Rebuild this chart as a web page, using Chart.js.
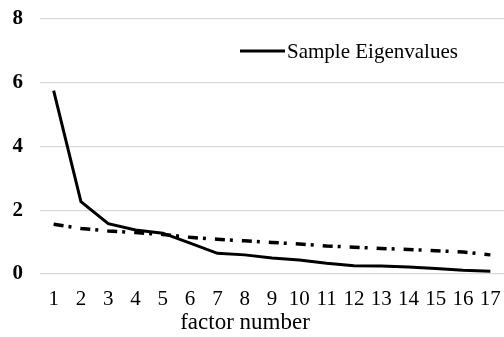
<!DOCTYPE html>
<html>
<head>
<meta charset="utf-8">
<script src="https://cdn.jsdelivr.net/npm/chart.js@4/dist/chart.umd.min.js"></script>
<style>
  html, body { margin: 0; padding: 0; background: #fff; }
  #wrap { width: 504px; height: 337px; position: relative; }
</style>
</head>
<body>
<div id="wrap"><canvas id="c" width="504" height="337"></canvas></div>
<script>
const factors = ['1','2','3','4','5','6','7','8','9','10','11','12','13','14','15','16','17'];
const sampleEigenvalues = [5.75, 2.27, 1.58, 1.38, 1.28, 0.97, 0.65, 0.60, 0.50, 0.44, 0.34, 0.26, 0.25, 0.22, 0.17, 0.12, 0.09];
const parallelEigenvalues = [1.56, 1.43, 1.35, 1.30, 1.24, 1.15, 1.09, 1.04, 0.99, 0.94, 0.88, 0.84, 0.80, 0.77, 0.73, 0.69, 0.60];
const yTicks = [0, 2, 4, 6, 8];
const legendLabel = 'Sample Eigenvalues';
const xTitle = 'factor number';

const FONT = "'Liberation Serif', 'Times New Roman', serif";

const overlay = {
  id: 'overlay',
  afterDraw(chart) {
    const ctx = chart.ctx;
    ctx.save();
    // legend
    ctx.strokeStyle = '#000';
    ctx.lineWidth = 3;
    ctx.beginPath();
    ctx.moveTo(240, 51);
    ctx.lineTo(285, 51);
    ctx.stroke();
    ctx.fillStyle = '#000';
    ctx.font = '21px ' + FONT;
    ctx.textBaseline = 'middle';
    ctx.textAlign = 'left';
    ctx.fillText(legendLabel, 287, 52);
    // axis title
    ctx.font = '23px ' + FONT;
    ctx.textAlign = 'center';
    ctx.fillText(xTitle, 245, 323);
    ctx.restore();
  }
};

new Chart(document.getElementById('c'), {
  type: 'line',
  data: {
    labels: factors,
    datasets: [
      {
        label: legendLabel,
        data: sampleEigenvalues,
        borderColor: '#000',
        backgroundColor: '#000',
        borderWidth: 3,
        pointRadius: 0,
        tension: 0,
        order: 1
      },
      {
        label: 'Parallel',
        data: parallelEigenvalues,
        borderColor: '#000',
        backgroundColor: '#000',
        borderWidth: 3.5,
        borderDash: [10, 5, 3, 9],
        pointRadius: 0,
        tension: 0,
        order: 2
      }
    ]
  },
  options: {
    responsive: false,
    animation: false,
    layout: { padding: { top: 19, left: 0, right: 0, bottom: 0 } },
    plugins: {
      legend: { display: false },
      tooltip: { enabled: false }
    },
    scales: {
      x: {
        type: 'category',
        offset: true,
        grid: { display: false, drawTicks: false },
        border: { display: false },
        ticks: {
          color: '#000',
          font: { family: FONT, size: 21 },
          autoSkip: false,
          maxRotation: 0,
          minRotation: 0,
          padding: 13
        },
        afterFit(scale) {
          scale.height = 63;
          scale.paddingLeft = 0;
          scale.paddingRight = 0;
        }
      },
      y: {
        min: 0,
        max: 8,
        afterBuildTicks(scale) { scale.ticks = yTicks.map(v => ({ value: v })); },
        grid: { color: '#d9d9d9', lineWidth: 1.3, drawTicks: false },
        border: { display: false },
        ticks: {
          color: '#000',
          font: { family: FONT, size: 21, weight: 'bold' },
          padding: 17
        },
        afterFit(scale) {
          scale.width = 40;
          scale.paddingTop = 0;
          scale.paddingBottom = 0;
        }
      }
    }
  },
  plugins: [overlay]
});
</script>
</body>
</html>
